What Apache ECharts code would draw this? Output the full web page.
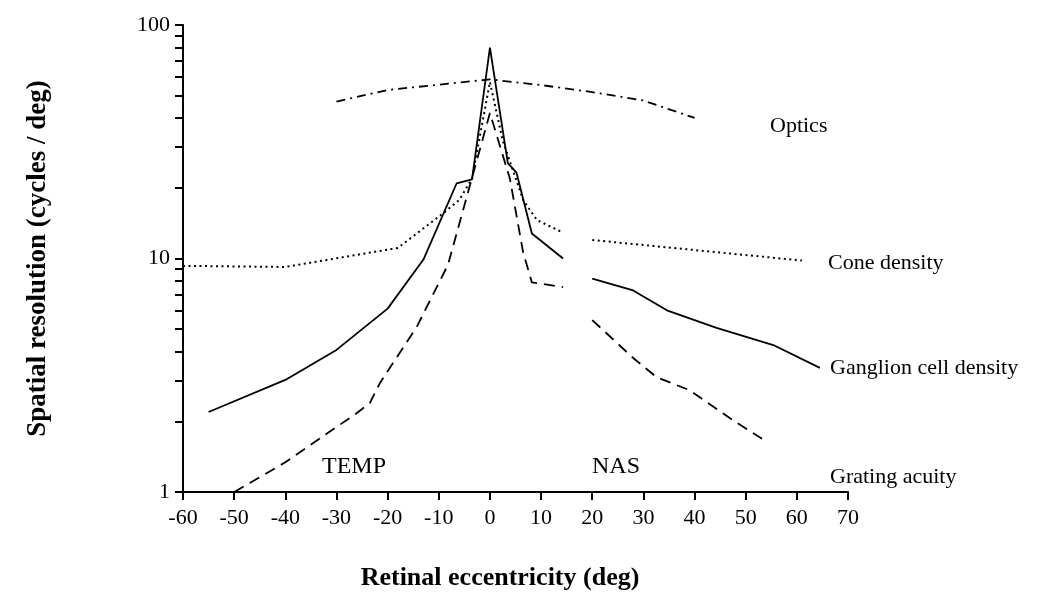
<!DOCTYPE html>
<html><head><meta charset="utf-8">
<script src="https://cdn.jsdelivr.net/npm/echarts@6/dist/echarts.min.js"></script>
<style>html,body{margin:0;background:#fff}#c{width:1058px;height:593px}</style>
</head><body><div id="c"></div>
<script>
// ---- data (null marks a gap in the curve) ----
const opticsX = [-30, -20, -10, 0, 10, 20, 30, 40];
const opticsY = [47, 52.7, 55.5, 58.5, 55.3, 51.6, 47.5, 40];

const coneX = [-60, -40, -18, -9, -6, -3.5, 0, 2.5, 6.5, 9.2, 14, 17, 20, 61];
const coneY = [9.3, 9.2, 11.1, 15.7, 17.8, 22, 57, 32, 17.8, 14.6, 13, null, 12, 9.8];

const ganglionX = [-55, -40, -30, -20, -13, -6.5, -3.5, 0, 3.5, 5.2, 8.2, 14.3, 17, 20, 28, 34.6, 44.3, 55.4, 64.5];
const ganglionY = [2.2, 3.02, 4.06, 6.1, 9.9, 21, 21.8, 80, 25.6, 23.3, 12.8, 10, null, 8.2, 7.3, 6.0, 5.05, 4.26, 3.4];

const gratingX = [-50, -40, -26, -23.5, -21.5, -14.3, -8.2, 0, 3.9, 6.5, 8.2, 14.3, 17, 20, 28, 32.6, 39, 47.5, 53.2];
const gratingY = [1.0, 1.34, 2.18, 2.4, 2.93, 5.1, 9.4, 42, 22, 10.6, 7.9, 7.55, null, 5.45, 3.75, 3.1, 2.73, 2.03, 1.69];

const yMajorTicks = [1, 10, 100];
const yAllTicks = [1,2,3,4,5,6,7,8,9,10,20,30,40,50,60,70,80,90,100];

const curveLabels = ['Optics', 'Cone density', 'Ganglion cell density', 'Grating acuity'];
const regionLabels = ['TEMP', 'NAS'];
const xTitle = 'Retinal eccentricity (deg)';
const yTitle = 'Spatial resolution (cycles / deg)';

const pair = (xs, ys) => xs.map((x, i) => ys[i] === null ? [x, '-'] : [x, ys[i]]);

const FONT = 'Liberation Serif';
const chart = echarts.init(document.getElementById('c'), null, {renderer: 'canvas'});

function line(name, xs, ys, type, width) {
  return {
    name, type: 'line', data: pair(xs, ys), symbol: 'none', connectNulls: false,
    lineStyle: {color: '#000', width: width || 1.8, type: type, cap: 'butt'},
    silent: true, animation: false
  };
}
function txt(str, left, top, size, bold) {
  return {type: 'text', left: left, top: top,
    style: {text: str, font: (bold ? 'bold ' : '') + size + 'px "' + FONT + '"', fill: '#000'}};
}

chart.setOption({
  backgroundColor: '#fff',
  animation: false,
  grid: {left: 183, right: 210, top: 25, bottom: 101, containLabel: false},
  xAxis: {
    type: 'value', min: -60, max: 70, interval: 10,
    axisLine: {show: true, onZero: false, lineStyle: {color: '#000', width: 2}},
    axisTick: {show: true, inside: false, length: 8, lineStyle: {color: '#000', width: 2}},
    axisLabel: {color: '#000', fontFamily: FONT, fontSize: 22, margin: 15},
    splitLine: {show: false}
  },
  yAxis: {
    type: 'log', logBase: 10, min: 1, max: 100,
    name: yTitle, nameLocation: 'middle', nameGap: 131, nameRotate: 90,
    nameTextStyle: {color: '#000', fontFamily: FONT, fontSize: 27, fontWeight: 'bold'},
    axisLine: {show: true, onZero: false, lineStyle: {color: '#000', width: 2}},
    axisTick: {show: true, inside: false, length: 8, customValues: yAllTicks, lineStyle: {color: '#000', width: 2}},
    axisLabel: {color: '#000', fontFamily: FONT, fontSize: 22, margin: 13, customValues: yMajorTicks},
    splitLine: {show: false}
  },
  series: [
    line(curveLabels[0], opticsX, opticsY, [9, 5, 2, 5]),
    line(curveLabels[1], coneX, coneY, [2, 3.5], 2),
    line(curveLabels[2], ganglionX, ganglionY, 'solid'),
    line(curveLabels[3], gratingX, gratingY, [11, 7])
  ],
  graphic: [
    txt(curveLabels[0], 770, 115, 22),
    txt(curveLabels[1], 828, 252, 22),
    txt(curveLabels[2], 830, 357, 22),
    txt(curveLabels[3], 830, 466, 22),
    txt(regionLabels[0], 322, 455, 24),
    txt(regionLabels[1], 592, 455, 24),
    {type: 'text', x: 500, y: 591,
     style: {text: xTitle, font: 'bold 26px "' + FONT + '"', fill: '#000', textAlign: 'center', textVerticalAlign: 'bottom'}}
  ]
});
</script></body></html>
